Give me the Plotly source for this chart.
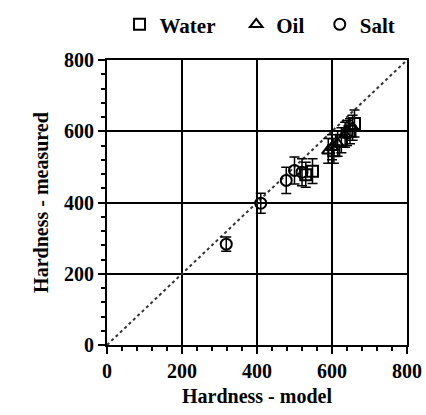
import plotly.graph_objects as go

# Data (model hardness, measured hardness, error)
water_x = [530, 548, 605, 625, 648, 660]
water_y = [478, 488, 545, 575, 600, 622]
water_err = [35, 35, 35, 35, 35, 38]

oil_x = [590, 600, 615, 635, 655]
oil_y = [545, 555, 565, 590, 610]
oil_err = [35, 35, 35, 35, 35]

salt_x = [318, 410, 478, 500, 520, 640]
salt_y = [283, 398, 462, 490, 485, 595]
salt_err = [20, 28, 37, 38, 38, 35]

series_names = ["Water", "Oil", "Salt"]
diag = [0, 800]
tick_vals = [0, 200, 400, 600, 800]

FONT = "Liberation Serif"

fig = go.Figure()

fig.add_trace(go.Scatter(x=diag, y=diag, mode="lines",
                         line=dict(color="#333333", width=2, dash="3px,3px"),
                         showlegend=False, hoverinfo="skip"))

def add_series(xs, ys, errs, name, symbol):
    fig.add_trace(go.Scatter(
        x=xs, y=ys, mode="markers", name=name,
        marker=dict(symbol=symbol, size=11, color="black", line=dict(width=2, color="black")),
        error_y=dict(type="data", array=errs, visible=True, color="black", thickness=1.5, width=5),
    ))

add_series(water_x, water_y, water_err, series_names[0] + "\u00a0\u00a0\u00a0", "square-open")
add_series(oil_x, oil_y, oil_err, series_names[1] + "\u00a0\u00a0", "triangle-up-open")
add_series(salt_x, salt_y, salt_err, series_names[2], "circle-open")

axis_common = dict(
    range=[0, 800], tickvals=tick_vals, ticks="outside", ticklen=7, tickwidth=2, tickcolor="black",
    showline=True, linecolor="black", linewidth=2, mirror=True, automargin=False,
    showgrid=True, gridcolor="black", gridwidth=2, zeroline=False,
    minor=dict(dtick=40, ticks="outside", ticklen=4, tickwidth=1.5, tickcolor="black", showgrid=False),
    tickfont=dict(family=FONT, size=20, color="black", weight="bold"),
)

fig.update_layout(
    width=426, height=415,
    margin=dict(l=107, r=19, t=60, b=70),
    paper_bgcolor="white", plot_bgcolor="white",
    font=dict(family=FONT, size=20, color="black", weight="bold"),
    legend=dict(orientation="h", x=0.51, xanchor="center", y=0.99, yanchor="top",
                yref="container", font=dict(family=FONT, size=21, color="black", weight="bold"),
                itemwidth=30, tracegroupgap=0, bgcolor="rgba(0,0,0,0)"),
    xaxis=dict(axis_common, title=dict(text="Hardness - model", standoff=8,
                                       font=dict(family=FONT, size=20, weight="bold"))),
    yaxis=dict(axis_common, title=dict(text="Hardness - measured", standoff=10,
                                       font=dict(family=FONT, size=20, weight="bold"))),
    showlegend=True,
)

fig.write_html("out.html")
